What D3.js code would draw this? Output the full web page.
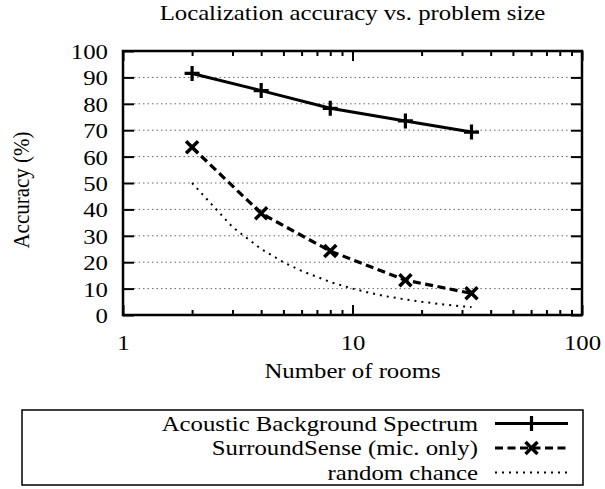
<!DOCTYPE html>
<html lang="en">
    <head>
        <meta charset="utf-8">
        <title>Localization accuracy vs. problem size</title>
        <script src="https://d3js.org/d3.v7.min.js"></script>
        <style type="text/css">
            html, body { margin: 0; padding: 0; background: #fff; overflow: hidden; }
            svg { display: block; }
            text { font-family: "Liberation Serif", "DejaVu Serif", serif; font-size: 21px; fill: #000; }
        </style>
    </head>
    <body>
        <script>
            // data
            var roomsMeasured = [2, 4, 8, 17, 33];
            var acousticAccuracy = [91.5, 85, 78.3, 73.5, 69.3];
            var surroundAccuracy = [63.5, 38.5, 24.2, 13.2, 8.2];
            var chanceRooms = [2, 3, 4, 5, 6, 8, 10, 12, 14, 17, 20, 25, 30, 33];
            var chanceAccuracy = [50, 33.3, 25, 20, 16.7, 12.5, 10, 8.3, 7.1, 5.9, 5, 4, 3.3, 3];
            var yTicks = [0, 10, 20, 30, 40, 50, 60, 70, 80, 90, 100];
            var xMajorTicks = [1, 10, 100];
            var xMinorTicks = [2, 3, 4, 5, 6, 7, 8, 9, 20, 30, 40, 50, 60, 70, 80, 90];
            var seriesNames = ["Acoustic Background Spectrum", "SurroundSense (mic. only)", "random chance"];

            // configuration code
            var outerWidth = 605;
            var outerHeight = 489;
            var margin = { left: 123, top: 51, right: 23, bottom: 174 };
            var innerWidth = outerWidth - margin.left - margin.right;
            var innerHeight = outerHeight - margin.top - margin.bottom;
            var sx = 1.18; // glyphs in the picture are wider than tall

            var svg = d3.select("body")
                        .append("svg")
                        .attr("width", outerWidth)
                        .attr("height", outerHeight);

            var g = svg.append("g")
                .attr("transform", "translate(" + margin.left + "," + margin.top + ")");

            var xScale = d3.scaleLog().domain([1, 100]).range([0, innerWidth]);
            var yScale = d3.scaleLinear().domain([0, 100]).range([innerHeight, 0]);

            function label(parent, x, y, str, anchor) {
                return parent.append("text")
                    .attr("transform", "translate(" + x + "," + y + ") scale(" + sx + ",1)")
                    .attr("text-anchor", anchor)
                    .text(str);
            }

            // grid
            g.selectAll(".grid").data(yTicks.slice(1, -1)).enter().append("line")
                .attr("x1", 11).attr("x2", innerWidth - 11)
                .attr("y1", function (d) { return yScale(d); })
                .attr("y2", function (d) { return yScale(d); })
                .attr("stroke", "#666").attr("stroke-width", 1)
                .attr("stroke-dasharray", "1.5,3");

            // y axis
            var yAx = g.append("g").call(d3.axisLeft(yScale).tickValues(yTicks).tickSize(-11));
            var yAxR = g.append("g").attr("transform", "translate(" + innerWidth + ",0)")
                .call(d3.axisRight(yScale).tickValues(yTicks).tickSize(-11).tickFormat(""));

            // x axis
            var xAx = g.append("g").attr("transform", "translate(0," + innerHeight + ")")
                .call(d3.axisBottom(xScale).tickValues(xMajorTicks).tickSize(-10).tickFormat(d3.format("d")));
            var xAxM = g.append("g").attr("transform", "translate(0," + innerHeight + ")")
                .call(d3.axisBottom(xScale).tickValues(xMinorTicks).tickSize(-5).tickFormat(""));
            var xAxT = g.append("g").call(d3.axisTop(xScale).tickValues(xMajorTicks).tickSize(-10).tickFormat(""));
            var xAxTM = g.append("g").call(d3.axisTop(xScale).tickValues(xMinorTicks).tickSize(-5).tickFormat(""));

            [yAx, yAxR, xAx, xAxM, xAxT, xAxTM].forEach(function (a) {
                a.select(".domain").remove();
                a.selectAll("line").attr("stroke", "#000").attr("stroke-width", 2);
                a.selectAll("text").attr("x", null).attr("y", null).attr("dy", null).attr("fill", "#000");
            });
            yAx.selectAll("text").attr("transform", "translate(-15,7.5) scale(" + sx + ",1)");
            xAx.selectAll("text").attr("transform", "translate(0,35) scale(" + sx + ",1)");

            // frame
            g.append("rect")
                .attr("width", innerWidth).attr("height", innerHeight)
                .attr("fill", "none").attr("stroke", "#000").attr("stroke-width", 2.5);

            var line = d3.line()
                .x(function (d) { return xScale(d[0]); })
                .y(function (d) { return yScale(d[1]); });

            var acoustic = d3.zip(roomsMeasured, acousticAccuracy);
            var surround = d3.zip(roomsMeasured, surroundAccuracy);
            var chance = d3.zip(chanceRooms, chanceAccuracy);

            var lineStyles = [
                { dash: null, width: 3 },
                { dash: "8,4.5", width: 3.2 },
                { dash: "2,5", width: 2 }
            ];

            g.append("path").datum(chance).attr("d", line)
                .attr("fill", "none").attr("stroke", "#000")
                .attr("stroke-width", lineStyles[2].width).attr("stroke-dasharray", lineStyles[2].dash);
            g.append("path").datum(surround).attr("d", line)
                .attr("fill", "none").attr("stroke", "#000")
                .attr("stroke-width", lineStyles[1].width).attr("stroke-dasharray", lineStyles[1].dash);
            g.append("path").datum(acoustic).attr("d", line)
                .attr("fill", "none").attr("stroke", "#000").attr("stroke-width", lineStyles[0].width);

            function plusPath(s) {
                return "M" + (-s) + ",0H" + s + "M0," + (-s) + "V" + s;
            }
            function crossPath(s) {
                return "M" + (-s) + "," + (-s) + "L" + s + "," + s + "M" + (-s) + "," + s + "L" + s + "," + (-s);
            }

            g.selectAll(".plus").data(acoustic).enter().append("path")
                .attr("transform", function (d) { return "translate(" + xScale(d[0]) + "," + yScale(d[1]) + ")"; })
                .attr("d", plusPath(7.5)).attr("stroke", "#000").attr("stroke-width", 3.2);
            g.selectAll(".cross").data(surround).enter().append("path")
                .attr("transform", function (d) { return "translate(" + xScale(d[0]) + "," + yScale(d[1]) + ")"; })
                .attr("d", crossPath(6)).attr("stroke", "#000").attr("stroke-width", 3.5);

            // titles
            var midX = margin.left + innerWidth / 2;
            label(svg, midX, 20, "Localization accuracy vs. problem size", "middle");
            label(svg, midX, 378, "Number of rooms", "middle");
            svg.append("text")
                .attr("transform", "translate(28.5,190) rotate(-90) scale(1,1.12)")
                .attr("text-anchor", "middle")
                .text("Accuracy (%)");

            // legend
            var legend = svg.append("g");
            legend.append("rect")
                .attr("x", 22).attr("y", 410).attr("width", 561).attr("height", 75)
                .attr("fill", "none").attr("stroke", "#000").attr("stroke-width", 1.5);
            var rowY = [423.5, 448, 472.5];
            seriesNames.forEach(function (name, i) {
                label(legend, 478, rowY[i] + 7, name, "end");
                legend.append("line")
                    .attr("x1", 495).attr("x2", 568).attr("y1", rowY[i]).attr("y2", rowY[i])
                    .attr("stroke", "#000").attr("stroke-width", lineStyles[i].width)
                    .attr("stroke-dasharray", lineStyles[i].dash);
            });
            legend.append("path").attr("transform", "translate(531.5," + rowY[0] + ")")
                .attr("d", plusPath(7.5)).attr("stroke", "#000").attr("stroke-width", 3.2);
            legend.append("path").attr("transform", "translate(531.5," + rowY[1] + ")")
                .attr("d", crossPath(6)).attr("stroke", "#000").attr("stroke-width", 3.5);
        </script>
    </body>
</html>
